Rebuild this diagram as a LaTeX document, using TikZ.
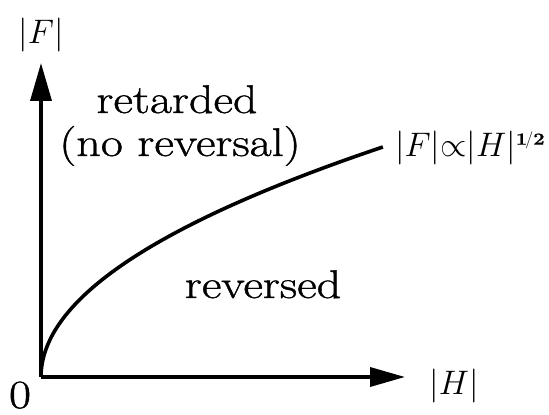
\RequirePackage{fix-cm}
\documentclass[tikz,border=0pt]{standalone}
\usepackage{fontspec}
\setmainfont{Latin Modern Roman}[FakeStretch=1.2,FakeBold=1]
\usetikzlibrary{arrows.meta}
\begin{document}
\begin{tikzpicture}[x=1pt,y=1pt,
  axis/.style={line width=3.6pt,-{Triangle[length=35pt,width=19pt]}},
  curve/.style={line width=3.6pt},
  lbl/.style={inner sep=0pt,anchor=base,font=\fontsize{40}{46}\selectfont},
  mlbl/.style={inner sep=0pt,font=\fontsize{34}{40}\selectfont}]
\useasboundingbox (0,0) rectangle (549,415);
\coordinate (O) at (41,38);
\coordinate (Ytip) at (41,352);
\coordinate (Xtip) at (405,38);
\draw[axis,-{Triangle[length=38pt,width=21pt]}] (O) -- (Ytip);
\draw[axis] (O) -- (Xtip);
\draw[curve] plot[domain=0:18.49,samples=80,smooth] ({41+\x*\x},{38+12.44*\x}) coordinate (Cend);
\node[mlbl] (fl) at (41,380) {$|F|$};
\node[lbl] (zero) at (20,7) {0};
\node[mlbl] (hl) at (454,29) {$|H|$};
\node[lbl] (ret) at (177,302) {retarded};
\node[lbl] (norev) at (180,259) {(no reversal)};
\node[lbl] (rev) at (263,117) {reversed};
\node[mlbl,anchor=base west] (law) at (395,258) {$|F|{\propto}|H|^{\scriptscriptstyle\mathbf{1/2}}$};
\end{tikzpicture}
\end{document}
